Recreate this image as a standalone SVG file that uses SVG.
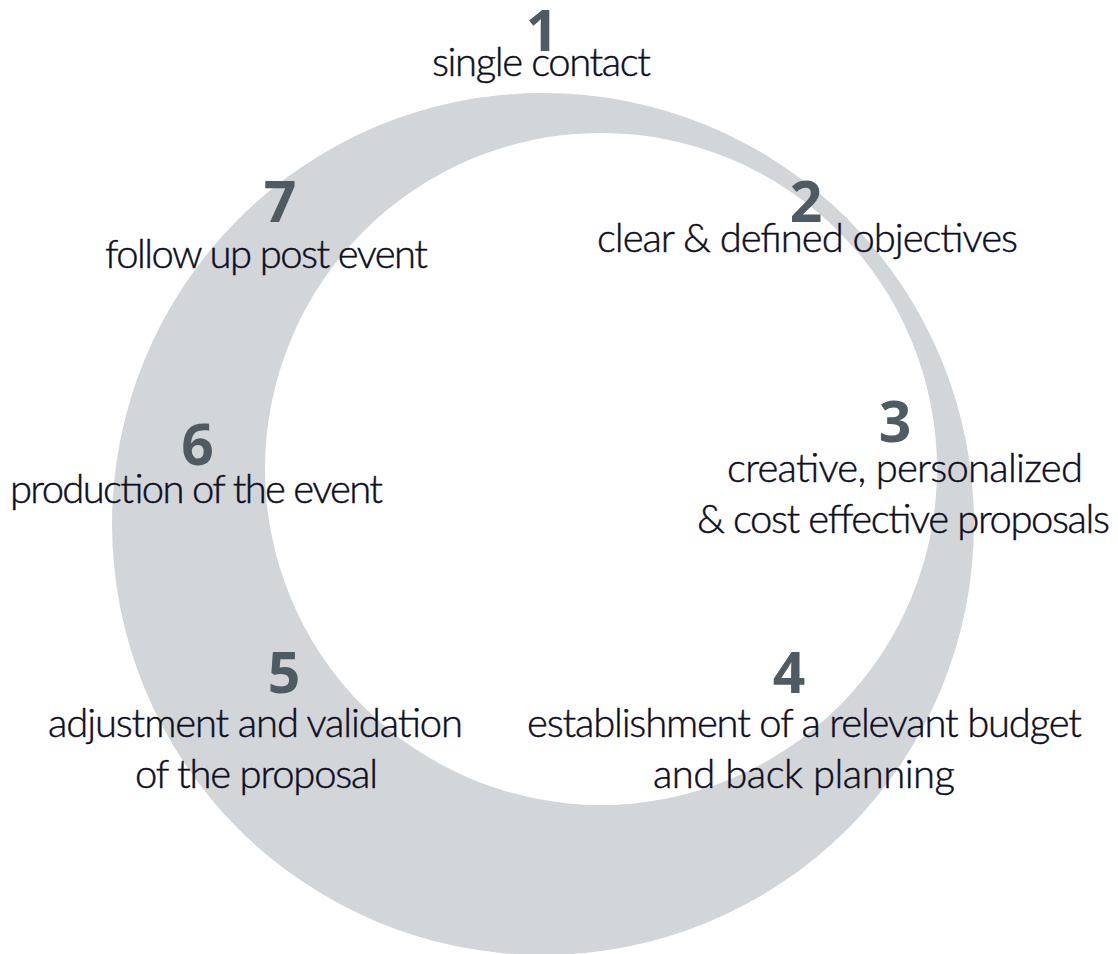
<svg xmlns="http://www.w3.org/2000/svg" width="1118" height="954" viewBox="0 0 1118 954">
<style>
.num{font-family:"Open Sans","Noto Sans",sans-serif;font-weight:700;font-size:57px;fill:#4f5b63;text-anchor:middle}
.lbl{font-family:Lato,"Noto Sans",sans-serif;font-weight:300;font-size:40px;fill:#0d0e22;stroke:#0d0e22;stroke-width:0.45px;text-anchor:middle}
</style>
<rect width="1118" height="954" fill="#ffffff"/>
<g id="ring">
<path fill="#d3d6d9" fill-rule="evenodd" d="M112 524A431 431 0 1 0 974 524A431 431 0 1 0 112 524Z M265 469A336 336 0 1 0 937 469A336 336 0 1 0 265 469Z"/>
</g>
<g id="step1">
<text class="num" x="542" y="51">1</text>
<text class="lbl" x="541.5" y="76" textLength="219" lengthAdjust="spacing">single contact</text>
</g>
<g id="step2">
<text class="num" x="806" y="222">2</text>
<text class="lbl" x="807.5" y="252" textLength="421" lengthAdjust="spacing">clear &amp; defined objectives</text>
</g>
<g id="step3">
<text class="num" x="895" y="442">3</text>
<text class="lbl" x="905" y="482" textLength="356" lengthAdjust="spacing">creative, personalized</text>
<text class="lbl" x="903.5" y="533" textLength="413" lengthAdjust="spacing">&amp; cost effective proposals</text>
</g>
<g id="step4">
<text class="num" x="789" y="693">4</text>
<text class="lbl" x="804.5" y="737" textLength="555" lengthAdjust="spacing">establishment of a relevant budget</text>
<text class="lbl" x="804" y="788" textLength="302" lengthAdjust="spacing">and back planning</text>
</g>
<g id="step5">
<text class="num" x="284" y="693">5</text>
<text class="lbl" x="255.5" y="737" textLength="415" lengthAdjust="spacing">adjustment and validation</text>
<text class="lbl" x="256.5" y="788" textLength="243" lengthAdjust="spacing">of the proposal</text>
</g>
<g id="step6">
<text class="num" x="197.5" y="465">6</text>
<text class="lbl" x="196.5" y="503" textLength="373" lengthAdjust="spacing">production of the event</text>
</g>
<g id="step7">
<text class="num" x="280" y="222">7</text>
<text class="lbl" x="266.5" y="268" textLength="323" lengthAdjust="spacing">follow up post event</text>
</g>
<g id="connectors"></g>
</svg>
